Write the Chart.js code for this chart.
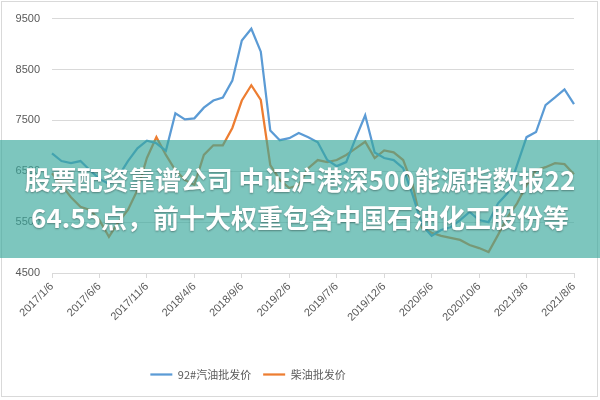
<!DOCTYPE html>
<html>
<head>
<meta charset="utf-8">
<script src="https://cdn.jsdelivr.net/npm/chart.js@4/dist/chart.umd.min.js"></script>
<style>
  html, body { margin: 0; padding: 0; background: #fff; }
  #wrap { position: relative; width: 600px; height: 400px; overflow: hidden; }
  #frame { position: absolute; left: 1px; top: 1px; width: 595px; height: 394px; border: 1px solid #d9d9d9; }
  #banner {
    position: absolute; left: 0; top: 140px; width: 600px; height: 118px;
    background: rgba(55, 168, 155, 0.65);
    color: #fff; font-family: "Noto Sans CJK SC", sans-serif; font-weight: bold;
    font-size: 26px; line-height: 38px; text-align: center;
    text-shadow: 0 1px 2px rgba(0, 0, 0, 0.35);
    box-sizing: border-box; padding-top: 20px;
  }
</style>
</head>
<body>
<div id="wrap">
  <canvas id="oilChart" width="600" height="400"></canvas>
  <div id="frame"></div>
  <div id="banner"><div>股票配资靠谱公司 中证沪港深500能源指数报22</div><div>64.55点，前十大权重包含中国石油化工股份等</div></div>
</div>
<script>
// monthly points
const dates = [
  "2017/1/6", "2017/2/6", "2017/3/6", "2017/4/6", "2017/5/6", "2017/6/6",
  "2017/7/6", "2017/8/6", "2017/9/6", "2017/10/6", "2017/11/6", "2017/12/6",
  "2018/1/6", "2018/2/6", "2018/3/6", "2018/4/6", "2018/5/6", "2018/6/6",
  "2018/7/6", "2018/8/6", "2018/9/6", "2018/10/6", "2018/11/6", "2018/12/6",
  "2019/1/6", "2019/2/6", "2019/3/6", "2019/4/6", "2019/5/6", "2019/6/6",
  "2019/7/6", "2019/8/6", "2019/9/6", "2019/10/6", "2019/11/6", "2019/12/6",
  "2020/1/6", "2020/2/6", "2020/3/6", "2020/4/6", "2020/5/6", "2020/6/6",
  "2020/7/6", "2020/8/6", "2020/9/6", "2020/10/6", "2020/11/6", "2020/12/6",
  "2021/1/6", "2021/2/6", "2021/3/6", "2021/4/6", "2021/5/6", "2021/6/6",
  "2021/7/6", "2021/8/6",
];

const gasoline92 = [
  6850, 6700, 6660, 6700, 6520, 6350, 6250, 6400, 6700, 6950, 7100, 7050,
  6900, 7640, 7520, 7540, 7750, 7890, 7950, 8280, 9070, 9300, 8850, 7300,
  7110, 7150, 7250, 7170, 7070, 6720, 6600, 6680, 7150, 7600, 6870, 6760,
  6720, 6560, 6030, 5440, 5230, 5345, 5400, 5540, 5700, 5540, 5500, 5870,
  6070, 6620, 7170, 7270, 7800, 7950, 8110, 7820,
];

const diesel = [
  6460, 6230, 5990, 5800, 5740, 5540, 5210, 5500, 5740, 6130, 6760, 7170,
  6820, 6520, 6330, 6230, 6820, 7010, 7010, 7350, 7890, 8190, 7900, 6620,
  6330, 6170, 6230, 6560, 6720, 6680, 6720, 6820, 6950, 7080, 6760, 6910,
  6870, 6720, 6230, 5390, 5290, 5230, 5190, 5150, 5050, 4990, 4910, 5250,
  5600, 5870, 6230, 6520, 6580, 6660, 6640, 6440,
];

const seriesNames = ["92#汽油批发价", "柴油批发价"];
const yTicks = { min: 4500, max: 9500, step: 1000 };
const labelEvery = 5;

const axisFont = { family: "'Liberation Sans', 'Noto Sans CJK SC', sans-serif", size: 11 };

// the legend in the original sits left of centre
const shiftLegend = {
  id: "shiftLegend",
  afterLayout(chart) {
    chart.legend.left -= 39;
    chart.legend.right -= 39;
  },
};

const ctx = document.getElementById("oilChart").getContext("2d");
new Chart(ctx, {
  type: "line",
  data: {
    labels: dates,
    datasets: [
      {
        label: seriesNames[0],
        data: gasoline92,
        borderColor: "#5b9bd5",
        backgroundColor: "#5b9bd5",
        borderWidth: 2.25,
      },
      {
        label: seriesNames[1],
        data: diesel,
        borderColor: "#ed7d31",
        backgroundColor: "#ed7d31",
        borderWidth: 2.25,
      },
    ],
  },
  plugins: [shiftLegend],
  options: {
    responsive: false,
    animation: false,
    elements: { point: { radius: 0 }, line: { tension: 0 } },
    layout: { padding: { top: 18, right: 26, bottom: 10, left: 0 } },
    plugins: {
      tooltip: { enabled: false },
      legend: {
        position: "bottom",
        labels: {
          usePointStyle: true,
          pointStyle: "line",
          pointStyleWidth: 22,
          padding: 12,
          color: "#595959",
          font: { family: "'Noto Sans CJK SC', sans-serif", size: 11 },
        },
      },
    },
    scales: {
      x: {
        grid: { drawOnChartArea: false, drawTicks: true, tickLength: 5, color: "#d9d9d9" },
        border: { display: true, color: "#d9d9d9" },
        ticks: {
          autoSkip: false,
          maxRotation: 45,
          minRotation: 45,
          padding: 2,
          color: "#595959",
          font: axisFont,
        },
        afterBuildTicks: (scale) => {
          scale.ticks = scale.ticks.filter((t, i) => i % labelEvery === 0);
        },
        afterFit: (scale) => {
          scale.height = 84;
        },
      },
      y: {
        min: yTicks.min,
        max: yTicks.max,
        ticks: {
          stepSize: yTicks.step,
          padding: 12,
          color: "#595959",
          font: axisFont,
          callback: (v) => String(v),
        },
        grid: { color: "#d9d9d9", drawTicks: false },
        border: { display: false },
        afterFit: (scale) => {
          scale.width = 52;
        },
      },
    },
  },
});
</script>
</body>
</html>
